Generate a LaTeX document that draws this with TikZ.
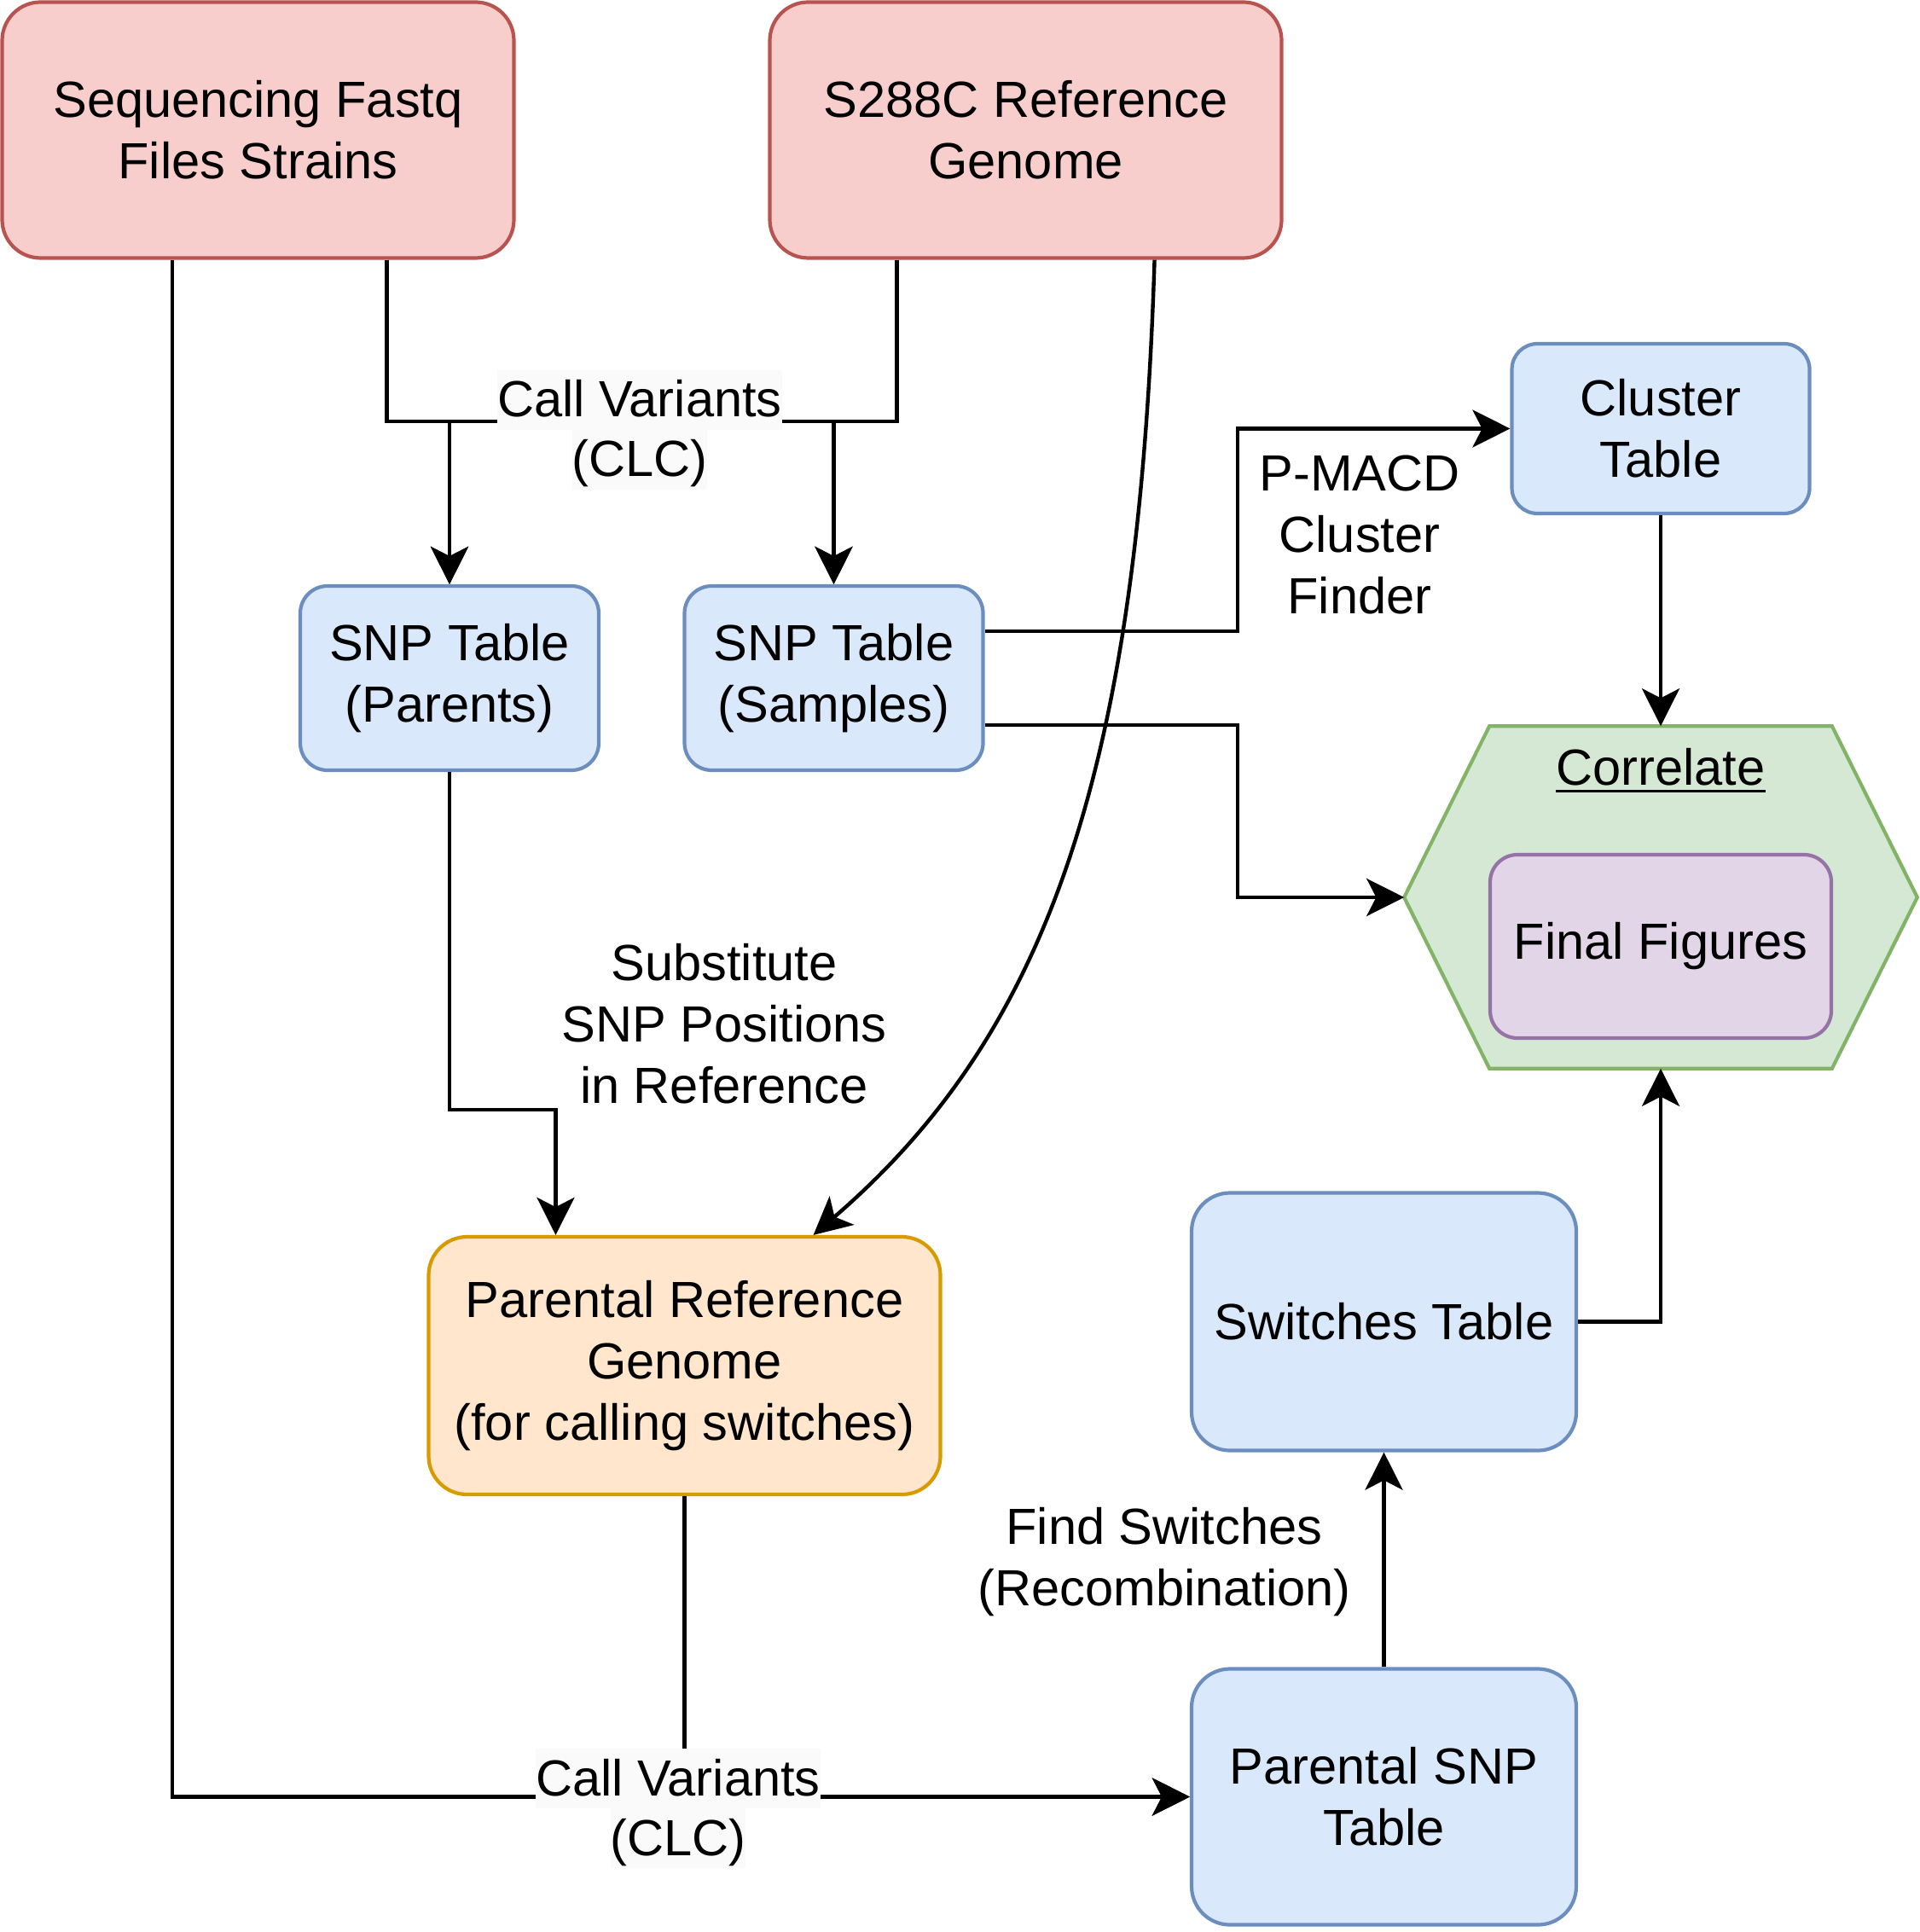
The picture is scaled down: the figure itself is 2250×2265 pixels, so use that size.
\documentclass[tikz,border=0pt]{standalone}
\usepackage{fontspec}
\setmainfont{Liberation Sans}
\usetikzlibrary{arrows.meta,calc}
\definecolor{redF}{HTML}{F8CECC}
\definecolor{redD}{HTML}{B85450}
\definecolor{blueF}{HTML}{DAE8FC}
\definecolor{blueD}{HTML}{6C8EBF}
\definecolor{greenF}{HTML}{D5E8D4}
\definecolor{greenD}{HTML}{82B366}
\definecolor{purF}{HTML}{E1D5E7}
\definecolor{purD}{HTML}{9673A6}
\definecolor{oraF}{HTML}{FFE6CC}
\definecolor{oraD}{HTML}{D79B00}
\definecolor{lbg}{HTML}{FAFAFA}
\newcommand{\lbgline}[1]{{\setlength{\fboxsep}{0pt}\colorbox{lbg}{\rule[-3.7pt]{0pt}{17.4pt}#1}}}
\tikzset{
  fs/.style={font=\fontsize{14.9pt}{18pt}\selectfont},
  box/.style={fs, draw, line width=1.05pt, align=center, inner sep=0pt, rectangle},
  redbox/.style={box, fill=redF, draw=redD, minimum width=150pt, minimum height=75pt, rounded corners=11.25pt},
  bluebox/.style={box, fill=blueF, draw=blueD},
  snpbox/.style={bluebox, minimum width=87.5pt, minimum height=54pt, rounded corners=8pt},
  bigblue/.style={bluebox, minimum width=112.75pt, minimum height=75pt, rounded corners=11.25pt},
  orabox/.style={box, fill=oraF, draw=oraD, minimum width=150pt, minimum height=75.5pt, rounded corners=11.25pt},
  purbox/.style={box, fill=purF, draw=purD, minimum width=100pt, minimum height=53.75pt, rounded corners=8pt},
  conn/.style={line width=1.1pt, draw=black},
  arr/.style={conn, -{Stealth[length=11pt,width=11pt,inset=2.8pt]}},
  lbl/.style={fs, align=center, inner sep=0pt},
  lblbg/.style={lbl, font=\fontsize{14.9pt}{17.5pt}\selectfont},
}
\begin{document}
\begin{tikzpicture}[x=0.25pt,y=-0.25pt]
\useasboundingbox (0,0) rectangle (2250,2265);

% main boxes
\node[redbox] (seq) at (302.5,152.5) {Sequencing Fastq\\Files Strains};
\node[redbox] (ref) at (1202.5,152.5) {S288C Reference\\Genome};
\node[snpbox] (snpP) at (527,795) {SNP Table\\(Parents)};
\node[snpbox] (snpS) at (977.5,795) {SNP Table\\(Samples)};
\node[bluebox, minimum width=87.25pt, minimum height=49.75pt, rounded corners=7.5pt] (clus) at (1947,502.5) {Cluster\\Table};
\node[orabox] (pref) at (802.5,1601) {Parental Reference\\Genome\\(for calling switches)};
\node[bigblue, minimum height=75.5pt] (sw) at (1622.5,1549.5) {Switches Table};
\node[bigblue] (psnp) at (1622.5,2106.5) {Parental SNP\\Table};

% correlate hexagon
\node[minimum width=150pt, minimum height=100pt, inner sep=0pt] (hex) at (1947,1052) {};
\filldraw[fill=greenF, draw=greenD, line width=1.05pt]
  (hex.west) -- ($(hex.north west)+(100,0)$) -- ($(hex.north east)+(-100,0)$)
  -- (hex.east) -- ($(hex.south east)+(-100,0)$) -- ($(hex.south west)+(100,0)$) -- cycle;
\node[purbox] (fin) at (1947,1109.5) {Final Figures};
\node[lbl] (corr) at (1947,899) {Correlate};
\draw[line width=0.8pt] ($(corr.base west)+(0,7)$) -- ($(corr.base east)+(0,7)$);

% anchor points
\coordinate (seqL) at ($(seq.south west)!0.3333!(seq.south east)$);
\coordinate (seqA) at ($(seq.south west)!0.75!(seq.south east)$);
\coordinate (refA) at ($(ref.south west)!0.25!(ref.south east)$);
\coordinate (refB) at ($(ref.south west)!0.75!(ref.south east)$);
\coordinate (prefA) at ($(pref.north west)!0.25!(pref.north east)$);
\coordinate (prefB) at ($(pref.north west)!0.75!(pref.north east)$);
\coordinate (snpSe1) at ($(snpS.north east)!0.25!(snpS.south east)$);
\coordinate (snpSe2) at ($(snpS.north east)!0.75!(snpS.south east)$);
\coordinate (topbus) at (0,494);
\coordinate (midbus) at (0,1301);
\coordinate (vbus) at (1451,0);

% connectors
\draw[arr] (seqA) |- (snpP.north |- topbus) -- (snpP.north);
\draw[arr] (seqA) |- (snpS.north |- topbus) -- (snpS.north);
\draw[arr] (refA) |- (snpS.north |- topbus) -- (snpS.north);
\draw[arr] (refA) |- (snpP.north |- topbus) -- (snpP.north);
\draw[arr] (snpP.south) |- (prefA |- midbus) -- (prefA);
\draw[arr] (refB) .. controls (1335,900) and (1230,1210) .. (prefB);
\draw[arr] (snpSe1) -| (vbus |- clus.west) -- (clus.west);
\draw[arr] (snpSe2) -| (vbus |- hex.west) -- (hex.west);
\draw[arr] (clus.south) -- (hex.north);
\draw[arr] (sw.east) -| (hex.south);
\draw[arr] (psnp.north) -- (sw.south);
\draw[arr] (seqL) |- (psnp.west);
\draw[arr] (pref.south) |- (psnp.west);

% labels
\node[lblbg] (cv1) at (750,504) {\lbgline{Call Variants}\\\lbgline{(CLC)}};
\node[lblbg] (cv2) at (795,2120) {\lbgline{Call Variants}\\\lbgline{(CLC)}};
\node[lbl] (pmacd) at (1594,627) {P-MACD\\Cluster\\Finder};
\node[lbl] (subst) at (849,1200) {Substitute\\SNP Positions\\in Reference};
\node[lbl] (finds) at (1365,1831) {Find Switches\\(Recombination)};
\end{tikzpicture}
\end{document}
